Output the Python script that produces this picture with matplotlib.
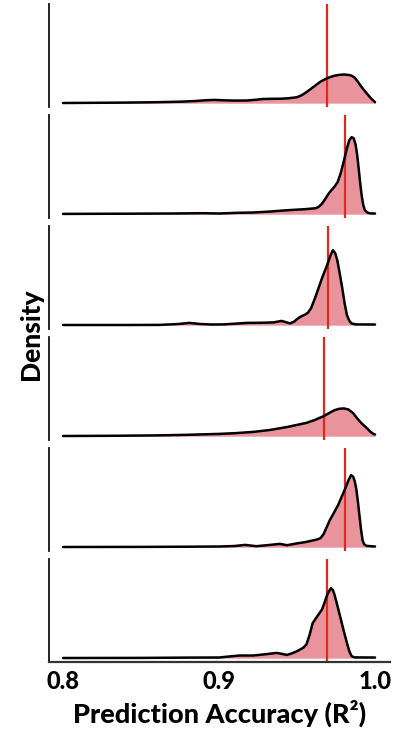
import matplotlib
matplotlib.use("Agg")
import matplotlib.pyplot as plt

plt.rcParams['font.family'] = ['Lato', 'DejaVu Sans']

# Density estimates of prediction accuracy (R^2), one row per model run
x1 = [0.800, 0.820, 0.840, 0.860, 0.875, 0.885, 0.892, 0.897, 0.903, 0.910, 0.918,
      0.924, 0.928, 0.934, 0.940, 0.945, 0.950, 0.953, 0.956, 0.959, 0.962, 0.965,
      0.968, 0.971, 0.974, 0.977, 0.980, 0.983, 0.985, 0.987, 0.989, 0.991, 0.993,
      0.995, 0.997, 0.999, 1.000]
d1 = [0.2, 0.4, 0.6, 1.0, 1.5, 2.2, 3.0, 3.3, 2.9, 2.6, 2.7,
      3.5, 4.2, 4.4, 4.5, 5.0, 6.0, 8.0, 11.0, 14.5, 18.0, 21.5,
      24.0, 26.0, 27.5, 28.3, 28.7, 28.3, 27.5, 25.5, 21.5, 17.0, 13.0,
      9.3, 5.5, 2.5, 1.0]

x2 = [0.800, 0.840, 0.870, 0.890, 0.900, 0.912, 0.922, 0.933, 0.944, 0.955, 0.962,
      0.964, 0.966, 0.968, 0.970, 0.972, 0.974, 0.976, 0.978, 0.980, 0.982, 0.9835,
      0.985, 0.9863, 0.9875, 0.9885, 0.9895, 0.9905, 0.9915, 0.9925, 0.9935, 0.995,
      0.997, 1.000]
d2 = [0.3, 0.5, 0.7, 1.0, 0.7, 1.4, 1.7, 2.7, 4.0, 5.0, 6.0,
      7.5, 10.5, 15.0, 20.0, 24.0, 27.5, 32.0, 41.0, 53.0, 66.0, 74.0,
      77.0, 76.0, 70.0, 60.0, 46.0, 31.0, 18.0, 9.0, 4.0, 1.7,
      0.8, 0.7]

x3 = [0.800, 0.840, 0.862, 0.874, 0.881, 0.888, 0.895, 0.903, 0.910, 0.918, 0.926,
      0.935, 0.940, 0.943, 0.9455, 0.948, 0.950, 0.952, 0.955, 0.957, 0.959, 0.9615,
      0.964, 0.966, 0.968, 0.970, 0.9715, 0.973, 0.9745, 0.9758, 0.977, 0.979,
      0.9805, 0.982, 0.9835, 0.985, 0.988, 1.000]
d3 = [0.2, 0.2, 0.3, 1.2, 2.3, 1.2, 0.7, 0.8, 1.5, 2.3, 2.4,
      2.8, 4.3, 3.0, 1.8, 3.5, 6.0, 8.3, 10.5, 12.5, 17.0, 27.0,
      38.0, 47.0, 55.0, 63.0, 70.0, 75.0, 72.0, 65.0, 55.0, 37.0,
      22.0, 10.0, 4.5, 1.7, 0.8, 0.7]

x4 = [0.800, 0.830, 0.860, 0.880, 0.900, 0.910, 0.922, 0.933, 0.944, 0.950, 0.956,
      0.961, 0.967, 0.971, 0.974, 0.977, 0.980, 0.983, 0.986, 0.9885, 0.991, 0.9946,
      0.997, 0.999, 1.000]
d4 = [0.2, 0.4, 0.8, 1.4, 2.3, 3.0, 4.3, 6.3, 9.3, 11.3, 13.3,
      16.0, 20.0, 23.5, 26.0, 27.4, 27.8, 26.7, 23.0, 18.0, 13.5, 8.3,
      4.5, 2.3, 1.7]

x5 = [0.800, 0.850, 0.880, 0.900, 0.910, 0.9167, 0.924, 0.932, 0.939, 0.9436, 0.950,
      0.955, 0.960, 0.963, 0.965, 0.967, 0.969, 0.971, 0.9735, 0.9763, 0.9785, 0.981,
      0.983, 0.9846, 0.986, 0.987, 0.988, 0.989, 0.990, 0.991, 0.992, 0.993, 0.9946,
      1.000]
d5 = [0.2, 0.3, 0.5, 0.7, 1.2, 2.3, 1.0, 2.2, 3.3, 2.0, 3.8,
      5.0, 6.7, 7.8, 9.0, 13.0, 20.0, 27.0, 34.0, 42.0, 50.0, 59.0,
      67.0, 72.0, 70.5, 66.0, 58.0, 46.0, 32.0, 18.0, 7.0, 3.0, 1.3,
      0.7]

x6 = [0.800, 0.850, 0.880, 0.900, 0.907, 0.9135, 0.922, 0.930, 0.937, 0.9436, 0.947,
      0.950, 0.952, 0.954, 0.956, 0.958, 0.960, 0.963, 0.966, 0.9675, 0.969, 0.9705,
      0.9718, 0.973, 0.974, 0.9758, 0.9776, 0.980, 0.982, 0.9835, 0.985, 0.987, 1.000]
d6 = [0.2, 0.3, 0.6, 0.7, 1.8, 2.7, 2.7, 4.0, 5.3, 3.3, 5.0,
      7.0, 8.7, 10.5, 13.7, 23.0, 35.0, 42.0, 48.7, 55.0, 62.0, 67.0,
      70.0, 68.0, 63.7, 53.0, 42.0, 27.0, 15.3, 7.0, 2.0, 0.8, 0.7]

# Central value marked by the red line in each row
centers = [0.969, 0.981, 0.970, 0.967, 0.981, 0.969]

xs = [x1, x2, x3, x4, x5, x6]
ds = [d1, d2, d3, d4, d5, d6]

x_ticks = [0.8, 0.9, 1.0]
x_ticklabels = ["0.8", "0.9", "1.0"]

fill_color = "#E9939C"
line_red = "#E02A1C"

fig = plt.figure(figsize=(3.97, 7.31), dpi=100)
gs = fig.add_gridspec(6, 1, left=49 / 397, right=390 / 397,
                      top=1 - 4 / 731, bottom=1 - 662 / 731, hspace=8 / 103)

for i in range(6):
    ax = fig.add_subplot(gs[i])
    ax.fill_between(xs[i], 0, ds[i], color=fill_color, lw=0, zorder=1)
    ax.plot(xs[i], ds[i], color="black", lw=1.8, solid_joinstyle="round",
            solid_capstyle="round", zorder=3)
    ax.axvline(centers[i], color=line_red, lw=1.6, zorder=2)
    ax.set_xlim(0.791, 1.0096)
    ax.set_ylim(-3.8, 99.2)
    ax.set_yticks([])
    for side in ("top", "right"):
        ax.spines[side].set_visible(False)
    ax.spines["left"].set_linewidth(1.3)
    ax.spines["left"].set_color("#111111")
    ax.patch.set_alpha(0)
    if i < 5:
        ax.spines["bottom"].set_visible(False)
        ax.set_xticks([])
    else:
        ax.spines["bottom"].set_linewidth(1.6)
        ax.spines["bottom"].set_color("#333333")
        ax.set_xticks(x_ticks)
        ax.set_xticklabels(x_ticklabels, fontsize=17, fontweight="black")
        ax.tick_params(axis="x", length=0, pad=6)

fig.text(220 / 397, 1 - 713 / 731, "Prediction Accuracy (R²)", ha="center", va="center",
         fontsize=19.5, fontweight="black")
fig.text(31 / 397, 1 - 334 / 731, "Density", ha="center", va="center",
         rotation=90, fontsize=19, fontweight="black")

fig.savefig("out.png", dpi=100)
